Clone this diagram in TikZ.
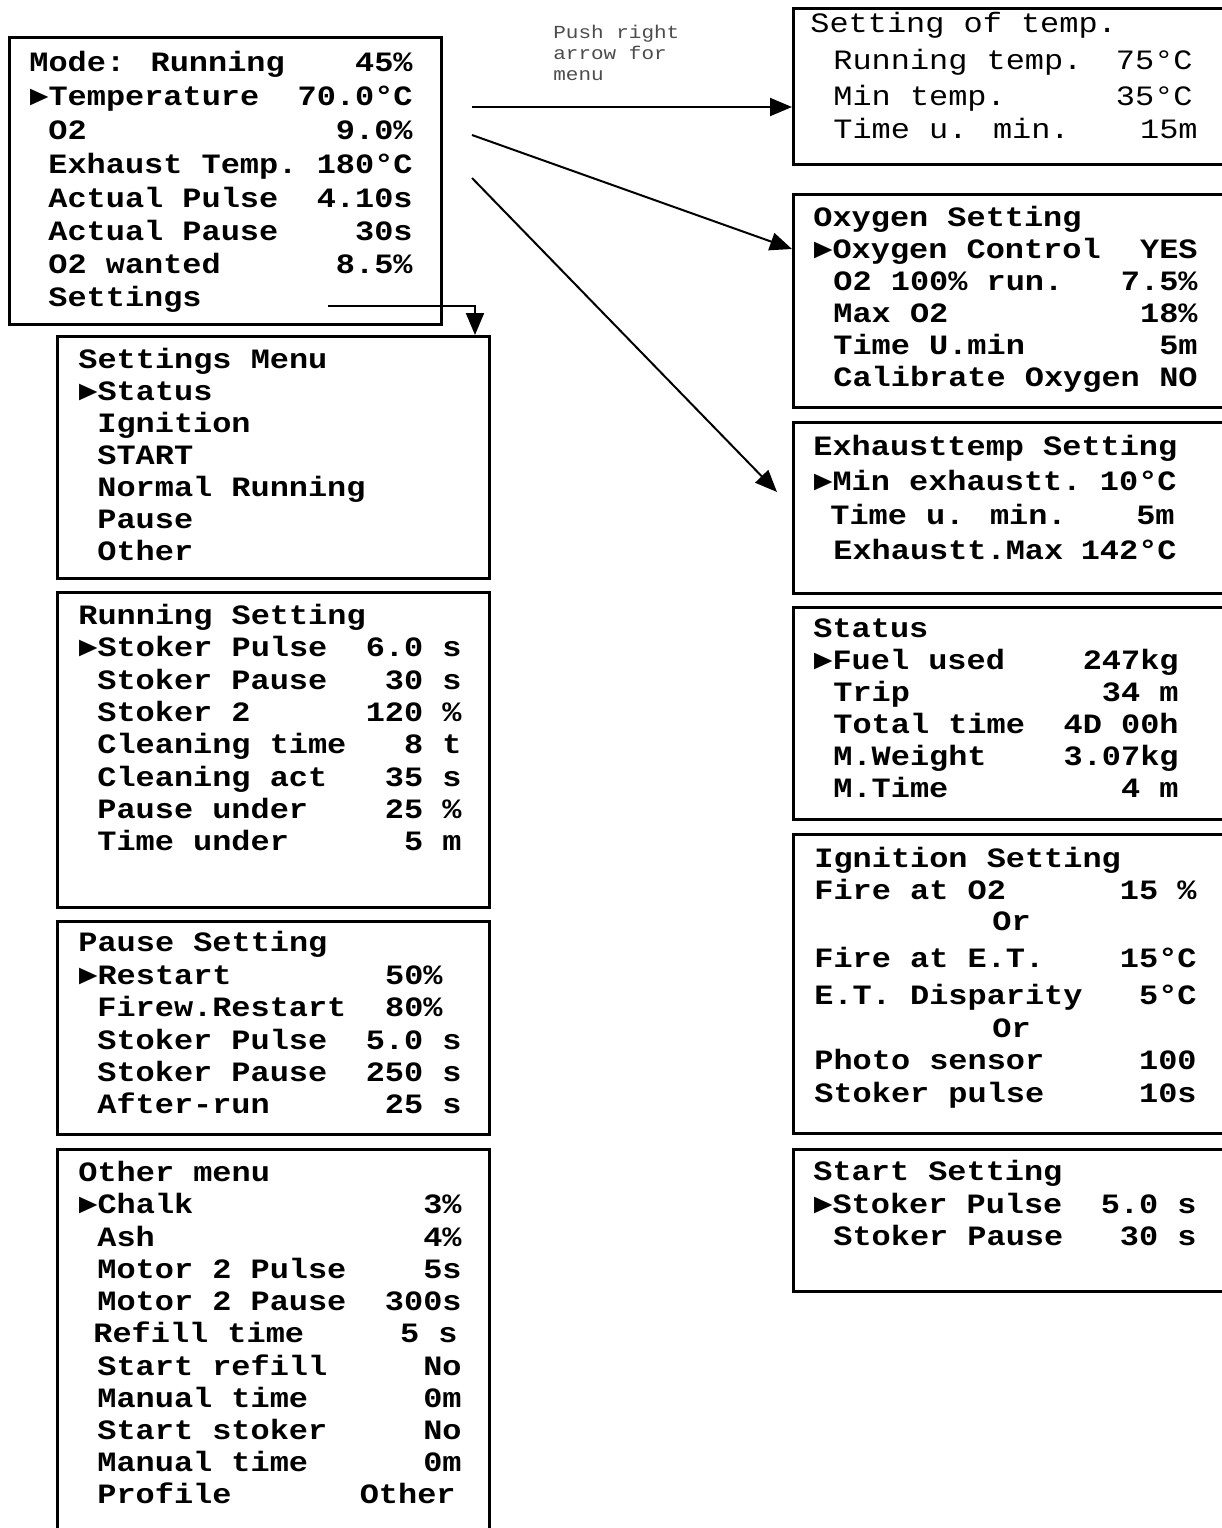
\documentclass[tikz,border=0pt]{standalone}
\usepackage{fontspec}
\usepackage{tikz}
\usetikzlibrary{arrows.meta,calc}
\newfontfamily\lcd[FakeStretch=1.14]{Liberation Mono}
\newcommand\lcdfont{\lcd\bfseries\fontsize{14}{14}\selectfont}
\newcommand\lcdthin{\lcd\fontsize{14}{14}\selectfont}
\newcommand\hintfont{\lcd\fontsize{9.2}{9.2}\selectfont}
\tikzset{
  menubox/.style={draw, line width=1.5pt, anchor=north west, inner sep=0pt, minimum width=216pt},
  sidebox/.style={menubox, minimum width=224pt},
  lcdtxt/.style={anchor=base west, inner sep=0pt, font=\lcdfont},
  lcdval/.style={anchor=base east, inner sep=0pt, font=\lcdfont},
  hinttxt/.style={anchor=base west, inner sep=0pt, font=\hintfont, text=black!70},
  arr/.style={line width=1pt, -{Triangle[length=11pt,width=9pt]}}
}
\begin{document}
\begin{tikzpicture}[x=0.5pt,y=0.5pt,yscale=-1,xscale=1]
\useasboundingbox (0,0) rectangle (1222,1528);
\clip (0,0) rectangle (1222,1528);

%Shape: Rectangle
\node[menubox, minimum height=143.5pt] (mainmenu) at (8,36) {};
%Shape: Rectangle
\node[menubox, minimum height=121pt] (settingsmenu) at (56,335) {};
%Shape: Rectangle
\node[menubox, minimum height=157.5pt] (running) at (56,591) {};
%Shape: Rectangle
\node[menubox, minimum height=106.5pt] (pausemenu) at (56,920) {};
%Shape: Rectangle
\node[menubox, minimum height=198.5pt] (othermenu) at (56,1148) {};
%Shape: Rectangle
\node[sidebox, minimum height=78pt] (tempset) at (792,7) {};
%Shape: Rectangle
\node[sidebox, minimum height=106.5pt] (oxyset) at (792,193) {};
%Shape: Rectangle
\node[sidebox, minimum height=85.5pt] (exhset) at (792,421) {};
%Shape: Rectangle
\node[sidebox, minimum height=106pt] (status) at (792,606) {};
%Shape: Rectangle
\node[sidebox, minimum height=149.5pt] (ignset) at (792,833) {};
%Shape: Rectangle
\node[sidebox, minimum height=71pt] (startset) at (792,1148) {};

% Text Node
\node[lcdtxt] (m1) at (29,71) {Mode: Running}; \node[lcdval] (m1v) at (413,71) {45\%};
\node[lcdtxt] (m2) at (29,105) {►Temperature}; \node[lcdval] (m2v) at (413,105) {70.0°C};
\node[lcdtxt] (m3) at (48,139) {O2}; \node[lcdval] (m3v) at (413,139) {9.0\%};
\node[lcdtxt] (m4) at (48,173) {Exhaust Temp.}; \node[lcdval] (m4v) at (413,173) {180°C};
\node[lcdtxt] (m5) at (48,207) {Actual Pulse}; \node[lcdval] (m5v) at (413,207) {4.10s};
\node[lcdtxt] (m6) at (48,240) {Actual Pause}; \node[lcdval] (m6v) at (413,240) {30s};
\node[lcdtxt] (m7) at (48,273) {O2 wanted}; \node[lcdval] (m7v) at (413,273) {8.5\%};
\node[lcdtxt] (m8) at (48,306) {Settings};

% Text Node
\node[lcdtxt] (s1) at (78,368) {Settings Menu};
\node[lcdtxt] (s2) at (78,400) {►Status};
\node[lcdtxt] (s3) at (97,432) {Ignition};
\node[lcdtxt] (s4) at (97,464) {START};
\node[lcdtxt] (s5) at (97,496) {Normal Running};
\node[lcdtxt] (s6) at (97,528) {Pause};
\node[lcdtxt] (s7) at (97,560) {Other};

% Text Node
\node[lcdtxt] (r1) at (78,624) {Running Setting};
\node[lcdtxt] (r2) at (78,656) {►Stoker Pulse}; \node[lcdval] (r2v) at (462,656) {6.0 s};
\node[lcdtxt] (r3) at (97,689) {Stoker Pause}; \node[lcdval] (r3v) at (462,689) {30 s};
\node[lcdtxt] (r4) at (97,721) {Stoker 2}; \node[lcdval] (r4v) at (462,721) {120 \%};
\node[lcdtxt] (r5) at (97,753) {Cleaning time}; \node[lcdval] (r5v) at (462,753) {8 t};
\node[lcdtxt] (r6) at (97,786) {Cleaning act}; \node[lcdval] (r6v) at (462,786) {35 s};
\node[lcdtxt] (r7) at (97,818) {Pause under}; \node[lcdval] (r7v) at (462,818) {25 \%};
\node[lcdtxt] (r8) at (97,850) {Time under}; \node[lcdval] (r8v) at (462,850) {5 m};

% Text Node
\node[lcdtxt] (p1) at (78,951) {Pause Setting};
\node[lcdtxt] (p2) at (78,984) {►Restart}; \node[lcdval] (p2v) at (443,984) {50\%};
\node[lcdtxt] (p3) at (97,1016) {Firew.Restart}; \node[lcdval] (p3v) at (443,1016) {80\%};
\node[lcdtxt] (p4) at (97,1049) {Stoker Pulse}; \node[lcdval] (p4v) at (462,1049) {5.0 s};
\node[lcdtxt] (p5) at (97,1081) {Stoker Pause}; \node[lcdval] (p5v) at (462,1081) {250 s};
\node[lcdtxt] (p6) at (97,1113) {After-run}; \node[lcdval] (p6v) at (462,1113) {25 s};

% Text Node
\node[lcdtxt] (o1) at (78,1181) {Other menu};
\node[lcdtxt] (o2) at (78,1213) {►Chalk}; \node[lcdval] (o2v) at (462,1213) {3\%};
\node[lcdtxt] (o3) at (97,1246) {Ash}; \node[lcdval] (o3v) at (462,1246) {4\%};
\node[lcdtxt] (o4) at (97,1278) {Motor 2 Pulse}; \node[lcdval] (o4v) at (462,1278) {5s};
\node[lcdtxt] (o5) at (97,1310) {Motor 2 Pause}; \node[lcdval] (o5v) at (462,1310) {300s};
\node[lcdtxt] (o6) at (93,1342) {Refill time}; \node[lcdval] (o6v) at (458,1342) {5 s};
\node[lcdtxt] (o7) at (97,1375) {Start refill}; \node[lcdval] (o7v) at (462,1375) {No};
\node[lcdtxt] (o8) at (97,1407) {Manual time}; \node[lcdval] (o8v) at (462,1407) {0m};
\node[lcdtxt] (o9) at (97,1439) {Start stoker}; \node[lcdval] (o9v) at (462,1439) {No};
\node[lcdtxt] (o10) at (97,1471) {Manual time}; \node[lcdval] (o10v) at (462,1471) {0m};
\node[lcdtxt] (o11) at (97,1503) {Profile}; \node[lcdval] (o11v) at (456,1503) {Other};

% Text Node
\node[lcdtxt, font=\lcdthin] (t1) at (810,32) {Setting of temp.};
\node[lcdtxt, font=\lcdthin] (t2) at (833,69) {Running temp.}; \node[lcdval, font=\lcdthin] (t2v) at (1193,69) {75°C};
\node[lcdtxt, font=\lcdthin] (t3) at (833,105) {Min temp.}; \node[lcdval, font=\lcdthin] (t3v) at (1193,105) {35°C};
\node[lcdtxt, font=\lcdthin] (t4) at (833,138) {Time u. min.}; \node[lcdval, font=\lcdthin] (t4v) at (1198,138) {15m};

% Text Node
\node[lcdtxt] (x1) at (813,226) {Oxygen Setting};
\node[lcdtxt] (x2) at (813,258) {►Oxygen Control}; \node[lcdval] (x2v) at (1198,258) {YES};
\node[lcdtxt] (x3) at (833,290) {O2 100\% run.}; \node[lcdval] (x3v) at (1198,290) {7.5\%};
\node[lcdtxt] (x4) at (833,322) {Max O2}; \node[lcdval] (x4v) at (1198,322) {18\%};
\node[lcdtxt] (x5) at (833,354) {Time U.min}; \node[lcdval] (x5v) at (1198,354) {5m};
\node[lcdtxt] (x6) at (833,386) {Calibrate Oxygen}; \node[lcdval] (x6v) at (1198,386) {NO};

% Text Node
\node[lcdtxt] (e1) at (813,455) {Exhausttemp Setting};
\node[lcdtxt] (e2) at (813,490) {►Min exhaustt.}; \node[lcdval] (e2v) at (1177,490) {10°C};
\node[lcdtxt] (e3) at (830,524) {Time u. min.}; \node[lcdval] (e3v) at (1175,524) {5m};
\node[lcdtxt] (e4) at (833,559) {Exhaustt.Max}; \node[lcdval] (e4v) at (1177,559) {142°C};

% Text Node
\node[lcdtxt] (u1) at (813,637) {Status};
\node[lcdtxt] (u2) at (813,669) {►Fuel used}; \node[lcdval] (u2v) at (1179,669) {247kg};
\node[lcdtxt] (u3) at (833,701) {Trip}; \node[lcdval] (u3v) at (1179,701) {34 m};
\node[lcdtxt] (u4) at (833,733) {Total time}; \node[lcdval] (u4v) at (1179,733) {4D 00h};
\node[lcdtxt] (u5) at (833,765) {M.Weight}; \node[lcdval] (u5v) at (1179,765) {3.07kg};
\node[lcdtxt] (u6) at (833,797) {M.Time}; \node[lcdval] (u6v) at (1179,797) {4 m};

% Text Node
\node[lcdtxt] (g1) at (814,867) {Ignition Setting};
\node[lcdtxt] (g2) at (814,899) {Fire at O2}; \node[lcdval] (g2v) at (1197,899) {15 \%};
\node[lcdtxt] (g3) at (992,930) {Or};
\node[lcdtxt] (g4) at (814,967) {Fire at E.T.}; \node[lcdval] (g4v) at (1197,967) {15°C};
\node[lcdtxt] (g5) at (814,1004) {E.T. Disparity}; \node[lcdval] (g5v) at (1197,1004) {5°C};
\node[lcdtxt] (g6) at (992,1037) {Or};
\node[lcdtxt] (g7) at (814,1069) {Photo sensor}; \node[lcdval] (g7v) at (1197,1069) {100};
\node[lcdtxt] (g8) at (814,1102) {Stoker pulse}; \node[lcdval] (g8v) at (1197,1102) {10s};

% Text Node
\node[lcdtxt] (a1) at (813,1180) {Start Setting};
\node[lcdtxt] (a2) at (813,1213) {►Stoker Pulse}; \node[lcdval] (a2v) at (1197,1213) {5.0 s};
\node[lcdtxt] (a3) at (833,1245) {Stoker Pause}; \node[lcdval] (a3v) at (1197,1245) {30 s};

% Text Node
\node[hinttxt] (hint1) at (553,38) {Push right};
\node[hinttxt] (hint2) at (553,59) {arrow for};
\node[hinttxt] (hint3) at (553,80) {menu};

%Straight Lines
\coordinate (tempout) at (472,107);
\coordinate (oxyout) at (472,135);
\coordinate (exhout) at (472,178);
\coordinate (setout) at (328,306);
\draw[arr] (tempout) -- (tempset.west |- tempout);
\draw[arr] (oxyout) -- ($(oxyset.north west)+(0,56)$);
\draw[arr] (exhout) -- ($(exhset.north west)+(-15,71)$);
\draw[arr] (setout) -| ($(settingsmenu.north east)+(-16,0)$);

\end{tikzpicture}
\end{document}
